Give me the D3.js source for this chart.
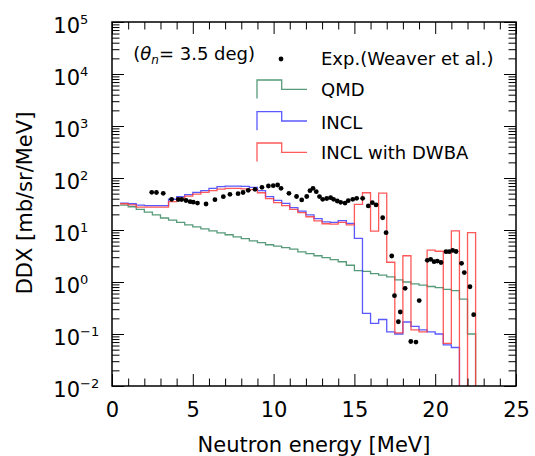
<!DOCTYPE html>
<html>
<head>
<meta charset="utf-8">
<script src="https://cdnjs.cloudflare.com/ajax/libs/d3/7.8.5/d3.min.js"></script>
<style>
  body { margin: 0; background: #fff; }
  svg { display: block; }
  text { font-family: "DejaVu Sans", sans-serif; fill: #000; }
</style>
</head>
<body>
<svg id="chart" width="535" height="456"></svg>
<script>
// histogram bins: 0.5 MeV wide, first bin starts at 0.5 MeV
const binStart = 0.5;
const binWidth = 0.5;

// QMD
const qmd = [30, 28, 25, 22, 19.5, 17, 15.5, 14, 12.5, 11.5,
  10.5, 9.6, 8.8, 8.1, 7.4, 6.8, 6.2, 5.7, 5.2, 4.9,
  4.6, 4.3, 3.8, 3.5, 3.2, 2.95, 2.7, 2.45, 2.1, 1.65,
  1.6, 1.45, 1.35, 1.25, 1.1, 1.0, 0.92, 0.87, 0.82, 0.78,
  0.72, 0.68, 0.47, 0.1];

// INCL
const incl = [33, 32, 30, 29.5, 29.5, 29.5, 39, 44, 48, 53,
  57, 63, 68, 70, 70, 69, 66, 57, 44, 37,
  32.5, 27, 23, 19.5, 16.5, 14.3, 14.0, 15.1, 13.4, 6.9,
  0.25, 0.16, 0.19, 0.11, 0.10, 0.17, 0.14, 0.12, 0.11, 0.10,
  0.062, 0.055, 0, 0];

// INCL with DWBA
const inclDwba = [32, 30.5, 27.5, 27.5, 27.5, 27.5, 35, 41, 45, 49,
  53, 57, 61, 63, 63, 62, 60, 52, 40, 33.5,
  29.5, 25, 21.5, 18, 15, 13.2, 13, 14, 12.5, 31,
  52, 9.5, 51, 2.4, 0.105, 3.2, 0.12, 0.11, 4.1, 3.9,
  0.066, 9.6, 0, 8.9];

// Exp. (Weaver et al.)
const expE = [2.46, 2.75, 3.17, 3.69, 4.10, 4.31, 4.58, 4.83, 5.03, 5.29,
  5.82, 6.37, 6.89, 7.30, 7.80, 8.11, 8.43, 8.85, 9.28, 9.68,
  9.98, 10.25, 10.46, 10.95, 11.42, 11.74, 12.05, 12.25, 12.44, 12.64,
  12.84, 13.04, 13.29, 13.53, 13.71, 13.94, 14.15, 14.42, 14.62, 14.90,
  15.14, 15.51, 15.86, 16.11, 16.34, 16.75, 16.96, 17.31, 17.48, 17.72,
  17.84, 18.14, 18.49, 18.81, 19.01, 19.51, 19.72, 19.93, 20.13, 20.36,
  20.67, 20.87, 21.08, 21.29, 21.63, 21.80, 22.15, 22.38];
const expDDX = [53, 52.6, 50.8, 38.9, 38.6, 38.6, 36.9, 35, 34.3, 33,
  31.6, 38.3, 43.7, 48.6, 49.9, 52.6, 58, 60.6, 66.2, 70.2,
  71.1, 73.3, 63.4, 50.8, 44.1, 37.8, 44.1, 57, 63.4, 54.5,
  44, 38.9, 40.3, 41.8, 38.9, 36.1, 34.1, 33, 36.6, 38.9,
  40.7, 40.7, 29, 33.5, 30.3, 17.2, 8.9, 3.16, 0.546, 0.172,
  0.265, 0.757, 0.0717, 0.070, 0.44, 2.61, 2.73, 2.46, 2.53, 2.37,
  3.83, 3.83, 4.04, 3.86, 2.29, 1.52, 0.81, 0.235];

const xMajorTicks = [0, 5, 10, 15, 20, 25];
const yDecades = [-2, -1, 0, 1, 2, 3, 4, 5];

const series = [
  { name: "QMD", values: qmd, color: "#3a8a62" },
  { name: "INCL", values: incl, color: "#3c3cff" },
  { name: "INCL with DWBA", values: inclDwba, color: "#ff3c3c" }
];

const plotLeft = 112, plotRight = 516, plotTop = 22, plotBottom = 386;

const x = d3.scaleLinear().domain([0, 25]).range([plotLeft, plotRight]);
const y = d3.scaleLog().domain([1e-2, 1e5]).range([plotBottom, plotTop]);

const svg = d3.select("#chart");

svg.append("defs").append("clipPath").attr("id", "plot-clip")
  .append("rect")
  .attr("x", plotLeft).attr("y", plotTop)
  .attr("width", plotRight - plotLeft).attr("height", plotBottom - plotTop);

// zero bins go below the frame (clipped)
const yv = v => v > 0 ? y(v) : plotBottom + 5;

function histPoints(vals) {
  const pts = vals.map((v, i) => [binStart + i * binWidth, v]);
  pts.push([binStart + vals.length * binWidth, 0]);
  return pts;
}

const stepLine = d3.line()
  .x(d => x(d[0]))
  .y(d => yv(d[1]))
  .curve(d3.curveStepAfter);

const plot = svg.append("g").attr("clip-path", "url(#plot-clip)");

plot.selectAll("path.hist")
  .data(series)
  .join("path")
  .attr("class", "hist")
  .attr("d", d => stepLine(histPoints(d.values)))
  .attr("fill", "none")
  .attr("stroke", d => d.color)
  .attr("stroke-width", 1.3)
  .attr("stroke-opacity", 0.85);

plot.selectAll("circle.exp")
  .data(expE.map((e, i) => [e, expDDX[i]]))
  .join("circle")
  .attr("class", "exp")
  .attr("cx", d => x(d[0]))
  .attr("cy", d => y(d[1]))
  .attr("r", 2.4)
  .attr("fill", "#000");

// === Axes (ticks point inward) ===
const xMinor = d3.range(0, 26, 1).filter(d => d % 5 !== 0);
const yMajor = yDecades.map(d => Math.pow(10, d));
const yMinor = [];
yDecades.slice(0, -1).forEach(k => {
  for (let m = 2; m <= 9; m++) yMinor.push(m * Math.pow(10, k));
});

function tickStyle(g) {
  g.select(".domain").remove();
  g.selectAll(".tick line").attr("stroke", "#000").attr("stroke-width", 1);
}

svg.append("g")
  .attr("transform", `translate(0,${plotBottom})`)
  .call(d3.axisBottom(x).tickValues(xMajorTicks).tickSize(-12).tickFormat(d3.format("d")))
  .call(tickStyle)
  .call(g => g.attr("font-size", null).attr("font-family", null))
  .call(g => g.selectAll("text")
    .attr("y", 30.7)
    .attr("dy", null)
    .attr("fill", "#000")
    .style("font-size", "21px")
    .style("font-family", "'DejaVu Sans', sans-serif"));

svg.append("g")
  .attr("transform", `translate(0,${plotBottom})`)
  .call(d3.axisBottom(x).tickValues(xMinor).tickSize(-7.5).tickFormat(""))
  .call(tickStyle);

svg.append("g")
  .attr("transform", `translate(0,${plotTop})`)
  .call(d3.axisTop(x).tickValues(xMajorTicks).tickSize(-12).tickFormat(""))
  .call(tickStyle);

svg.append("g")
  .attr("transform", `translate(0,${plotTop})`)
  .call(d3.axisTop(x).tickValues(xMinor).tickSize(-7.5).tickFormat(""))
  .call(tickStyle);

svg.append("g")
  .attr("transform", `translate(${plotLeft},0)`)
  .call(d3.axisLeft(y).tickValues(yMajor).tickSize(-12).tickFormat(""))
  .call(tickStyle);

svg.append("g")
  .attr("transform", `translate(${plotLeft},0)`)
  .call(d3.axisLeft(y).tickValues(yMinor).tickSize(-7.5).tickFormat(""))
  .call(tickStyle);

svg.append("g")
  .attr("transform", `translate(${plotRight},0)`)
  .call(d3.axisRight(y).tickValues(yMajor).tickSize(-12).tickFormat(""))
  .call(tickStyle);

svg.append("g")
  .attr("transform", `translate(${plotRight},0)`)
  .call(d3.axisRight(y).tickValues(yMinor).tickSize(-7.5).tickFormat(""))
  .call(tickStyle);

// y tick labels 10^k
const yLab = svg.append("g").selectAll("text")
  .data(yDecades)
  .join("text")
  .attr("x", 53.3)
  .attr("y", d => y(Math.pow(10, d)) + 11)
  .attr("font-size", 21);
yLab.append("tspan").text("10");
yLab.append("tspan")
  .attr("font-size", 13)
  .attr("dy", -9)
  .text(d => d < 0 ? "\u2212" + (-d) : d);

// frame
svg.append("rect")
  .attr("x", plotLeft).attr("y", plotTop)
  .attr("width", plotRight - plotLeft).attr("height", plotBottom - plotTop)
  .attr("fill", "none")
  .attr("stroke", "#000")
  .attr("stroke-width", 1.5);

// axis titles
svg.append("text")
  .attr("x", (plotLeft + plotRight) / 2)
  .attr("y", 452)
  .attr("text-anchor", "middle")
  .attr("font-size", 21)
  .text("Neutron energy [MeV]");

svg.append("text")
  .attr("transform", "translate(32,203) rotate(-90)")
  .attr("text-anchor", "middle")
  .attr("font-size", 21)
  .text("DDX [mb/sr/MeV]");

// angle note
const note = svg.append("text").attr("x", 133.3).attr("y", 60).attr("font-size", 18);
note.append("tspan").text("(");
note.append("tspan").attr("font-style", "italic").text("\u03b8");
note.append("tspan").attr("font-style", "italic").attr("font-size", 12).attr("dy", 4).text("n");
note.append("tspan").attr("dy", -4).text("= 3.5 deg)");

// === Legend ===
svg.append("circle").attr("cx", 281).attr("cy", 59).attr("r", 2.4).attr("fill", "#000");
const legendLabels = ["Exp.(Weaver et al.)", "QMD", "INCL", "INCL with DWBA"];
svg.append("g").selectAll("text")
  .data(legendLabels)
  .join("text")
  .attr("x", 321)
  .attr("y", (d, i) => [65, 96.3, 128.5, 159.3][i])
  .attr("font-size", 18)
  .text(d => d);

const legendMid = [89.3, 121, 152.3];
svg.append("g").selectAll("path")
  .data(series)
  .join("path")
  .attr("d", (d, i) => {
    const c = legendMid[i];
    return `M257,${c + 9.3}V${c - 9.3}H281.7V${c}H307`;
  })
  .attr("fill", "none")
  .attr("stroke", d => d.color)
  .attr("stroke-width", 1.3)
  .attr("stroke-opacity", 0.85);
</script>
</body>
</html>
